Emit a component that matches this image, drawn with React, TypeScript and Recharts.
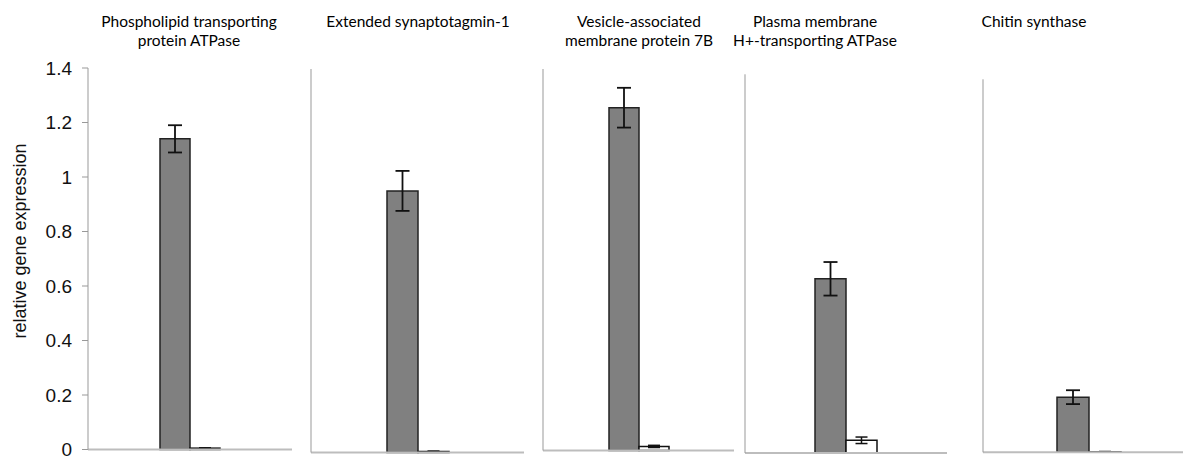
import { Bar, BarChart, ErrorBar, XAxis, YAxis } from 'recharts'

const genes = [
    'Phospholipid transporting protein ATPase',
    'Extended synaptotagmin-1',
    'Vesicle-associated membrane protein 7B',
    'Plasma membrane H+-transporting ATPase',
    'Chitin synthase',
]
const titleLines = [
    ['Phospholipid transporting', 'protein ATPase'],
    ['Extended synaptotagmin-1'],
    ['Vesicle-associated', 'membrane protein 7B'],
    ['Plasma membrane', 'H+-transporting ATPase'],
    ['Chitin synthase'],
]
const grayValues = [1.14, 0.955, 1.258, 0.644, 0.207]
const grayErrors = [0.05, 0.073, 0.073, 0.062, 0.026]
const whiteValues = [0.005, 0.004, 0.015, 0.047, 0.002]
const whiteErrors = [0.001, 0.001, 0.004, 0.012, 0.001]
const yTicks = [0, 0.2, 0.4, 0.6, 0.8, 1, 1.2, 1.4]

// layout of each small panel, in page pixels
const panels = [
    { left: 0, axisW: 88, width: 292, top: 68, zero: 449.5, barSize: 30, titleX: 189 },
    { left: 301, axisW: 10, width: 223, top: 69, zero: 452.5, barSize: 31, titleX: 418 },
    { left: 533, axisW: 10, width: 201, top: 69, zero: 450.5, barSize: 30, titleX: 639 },
    { left: 735, axisW: 10, width: 212, top: 74.3, zero: 453, barSize: 31, titleX: 815 },
    { left: 973, axisW: 10, width: 221, top: 79.3, zero: 452.3, barSize: 32, titleX: 1034 },
]

const H = 456

const App = () => {
    return (
        <div
            style={{
                position: 'absolute',
                left: 0,
                top: 0,
                width: 1183,
                height: H,
                overflow: 'hidden',
                background: '#fff',
            }}
        >
            {panels.map((p, i) => {
                const data = [
                    {
                        name: genes[i],
                        gray: grayValues[i],
                        grayErr: grayErrors[i],
                        white: whiteValues[i],
                        whiteErr: whiteErrors[i],
                    },
                ]
                return (
                    <div key={i} style={{ position: 'absolute', left: p.left, top: 0 }}>
                        <BarChart
                            width={p.width}
                            height={H}
                            data={data}
                            margin={{ top: p.top, right: 0, bottom: 0, left: 0 }}
                            barGap={0}
                            barSize={p.barSize}
                        >
                            {/* small down ticks at both ends of the category axis */}
                            <XAxis
                                xAxisId="edge"
                                type="number"
                                domain={[0, 1]}
                                ticks={[0, 1]}
                                height={0}
                                tick={false}
                                tickSize={4}
                                tickLine={{ stroke: '#999' }}
                                axisLine={false}
                            />
                            <XAxis
                                dataKey="name"
                                height={H - p.zero}
                                tick={false}
                                tickLine={false}
                                axisLine={{ stroke: '#bdbdbd', strokeWidth: 2 }}
                            />
                            <YAxis
                                width={p.axisW}
                                domain={[0, 1.4]}
                                ticks={yTicks}
                                interval={0}
                                tick={
                                    i === 0
                                        ? { fontSize: 19, fill: '#111', fontFamily: 'Liberation Sans, Arial, sans-serif' }
                                        : false
                                }
                                tickSize={6}
                                tickMargin={10}
                                tickLine={{ stroke: '#999' }}
                                axisLine={{ stroke: '#999' }}
                            />
                            <Bar
                                dataKey="gray"
                                fill="#808080"
                                stroke="#222"
                                strokeWidth={1.5}
                                isAnimationActive={false}
                            >
                                <ErrorBar dataKey="grayErr" width={7} stroke="#111" strokeWidth={1.8} />
                            </Bar>
                            <Bar
                                dataKey="white"
                                fill="#fff"
                                stroke="#111"
                                strokeWidth={1.5}
                                isAnimationActive={false}
                            >
                                <ErrorBar dataKey="whiteErr" width={6} stroke="#111" strokeWidth={1.5} />
                            </Bar>
                        </BarChart>
                    </div>
                )
            })}
            <svg
                width={1183}
                height={H}
                style={{ position: 'absolute', left: 0, top: 0, pointerEvents: 'none' }}
            >
                <text
                    transform="translate(26, 241) rotate(-90)"
                    textAnchor="middle"
                    fontSize={18}
                    fill="#111"
                    fontFamily="Liberation Sans, Arial, sans-serif"
                >
                    relative gene expression
                </text>
                {titleLines.map((lines, i) =>
                    lines.map((line, j) => (
                        <text
                            key={i + '-' + j}
                            x={panels[i].titleX}
                            y={27 + j * 19}
                            textAnchor="middle"
                            fontSize={15.5}
                            fill="#000"
                            fontFamily="Lato, sans-serif"
                        >
                            {line}
                        </text>
                    ))
                )}
            </svg>
        </div>
    )
}

export default App
